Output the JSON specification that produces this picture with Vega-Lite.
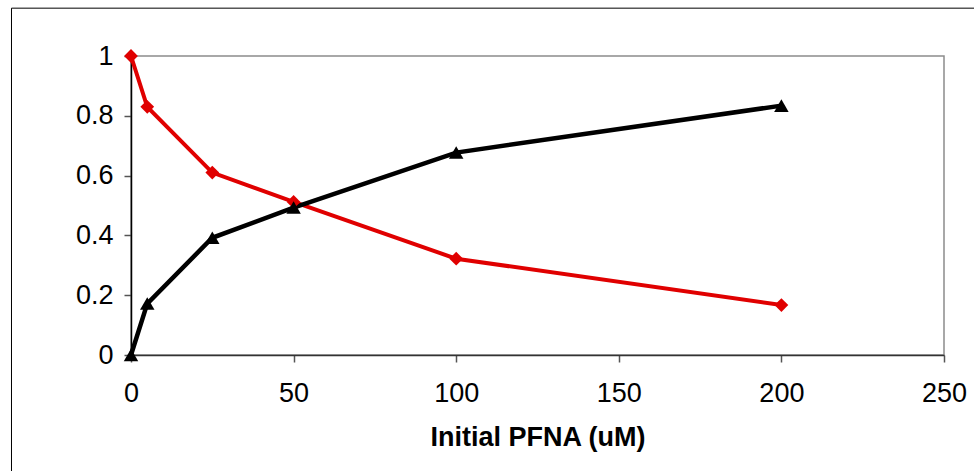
{
  "$schema": "https://vega.github.io/schema/vega-lite/v6.json",
  "autosize": "none",
  "width": 813,
  "height": 299,
  "padding": {"left": 131, "top": 56, "right": 30, "bottom": 116},
  "background": "white",
  "config": {
    "view": {"stroke": "#8c8c8c", "strokeWidth": 1.5},
    "font": "Liberation Sans"
  },
  "datasets": {
    "series": [
      {"pfna": 0, "value": 1.0, "series": "red"},
      {"pfna": 5, "value": 0.83, "series": "red"},
      {"pfna": 25, "value": 0.61, "series": "red"},
      {"pfna": 50, "value": 0.512, "series": "red"},
      {"pfna": 100, "value": 0.322, "series": "red"},
      {"pfna": 200, "value": 0.167, "series": "red"},
      {"pfna": 0, "value": 0.0, "series": "black"},
      {"pfna": 5, "value": 0.172, "series": "black"},
      {"pfna": 25, "value": 0.392, "series": "black"},
      {"pfna": 50, "value": 0.493, "series": "black"},
      {"pfna": 100, "value": 0.677, "series": "black"},
      {"pfna": 200, "value": 0.834, "series": "black"}
    ]
  },
  "layer": [
    {
      "data": {"values": [{}]},
      "mark": {"type": "rect", "fill": null, "stroke": "black", "strokeWidth": 1, "clip": false},
      "encoding": {
        "x": {"datum": -36.75, "type": "quantitative", "scale": {"domain": [0, 250], "nice": false, "zero": false}},
        "x2": {"datum": 265},
        "y": {"datum": 1.16, "type": "quantitative", "scale": {"domain": [0, 1], "nice": false, "zero": false}},
        "y2": {"datum": -0.45}
      }
    },
    {
      "data": {"name": "series"},
      "transform": [{"filter": "datum.series === 'red'"}],
      "mark": {"type": "line", "strokeWidth": 4, "color": "#e00000", "clip": false},
      "encoding": {
        "x": {
          "field": "pfna", "type": "quantitative",
          "scale": {"domain": [0, 250], "nice": false, "zero": false},
          "axis": {
            "title": "Initial PFNA (uM)", "titleFont": "Liberation Sans", "titleFontSize": 27, "titleFontWeight": "bold",
            "titleColor": "black", "titlePadding": 18,
            "values": [0, 50, 100, 150, 200, 250], "grid": false,
            "domainColor": "#333333", "domainWidth": 1.5, "tickColor": "#555555", "tickWidth": 1.5, "tickSize": 7,
            "labelFont": "Liberation Sans", "labelFontSize": 27, "labelColor": "black", "labelPadding": 18, "labelFlush": false
          }
        },
        "y": {
          "field": "value", "type": "quantitative",
          "scale": {"domain": [0, 1], "nice": false, "zero": false},
          "axis": {
            "title": null, "values": [0, 0.2, 0.4, 0.6, 0.8, 1], "grid": false, "format": ".1~f",
            "domainColor": "black", "domainWidth": 1.5, "tickColor": "#555555", "tickWidth": 1.5, "tickSize": 7,
            "labelFont": "Liberation Sans", "labelFontSize": 27, "labelColor": "black", "labelPadding": 11, "labelFlush": false
          }
        }
      }
    },
    {
      "data": {"name": "series"},
      "transform": [{"filter": "datum.series === 'black'"}],
      "mark": {"type": "line", "strokeWidth": 4.5, "color": "#000000", "clip": false},
      "encoding": {
        "x": {"field": "pfna", "type": "quantitative"},
        "y": {"field": "value", "type": "quantitative"}
      }
    },
    {
      "data": {"name": "series"},
      "transform": [{"filter": "datum.series === 'red'"}],
      "mark": {"type": "point", "shape": "diamond", "filled": true, "size": 190, "opacity": 1, "color": "#e00000", "clip": false},
      "encoding": {
        "x": {"field": "pfna", "type": "quantitative"},
        "y": {"field": "value", "type": "quantitative"}
      }
    },
    {
      "data": {"name": "series"},
      "transform": [{"filter": "datum.series === 'black'"}],
      "mark": {"type": "point", "shape": "triangle-up", "filled": true, "size": 210, "opacity": 1, "color": "#000000", "clip": false},
      "encoding": {
        "x": {"field": "pfna", "type": "quantitative"},
        "y": {"field": "value", "type": "quantitative"}
      }
    }
  ]
}
